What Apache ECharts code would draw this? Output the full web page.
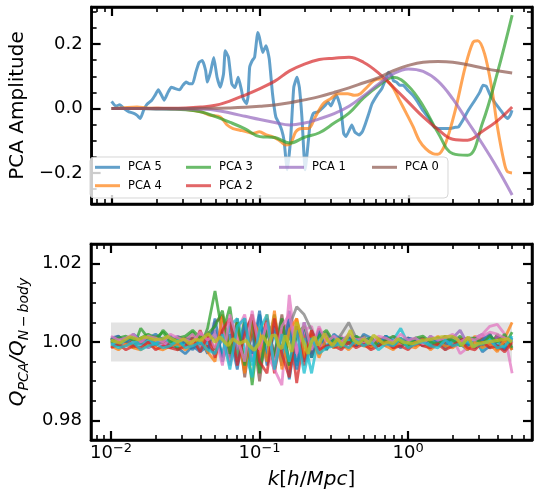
<!DOCTYPE html>
<html><head><meta charset="utf-8">
<script src="https://cdn.jsdelivr.net/npm/echarts@6/dist/echarts.min.js"></script>
<style>html,body{margin:0;padding:0;background:#fff}#c{width:540px;height:501px}</style>
</head><body><div id="c"></div>
<script>
// ---------------- data ----------------
const kGrid = [0.01, 0.01259, 0.01585, 0.01995, 0.02512, 0.03162, 0.03981, 0.05012, 0.0631, 0.07943, 0.1, 0.1259, 0.1585, 0.1995, 0.2512, 0.3162, 0.3981, 0.5012, 0.631, 0.7943, 1.0, 1.259, 1.585, 1.995, 2.512, 3.162, 3.981, 5.012];
const pca3 = [0, 0, 0, -0.001, -0.002, -0.004, -0.010, -0.025, -0.043, -0.063, -0.087, -0.090, -0.107, -0.089, -0.075, -0.045, -0.014, 0.034, 0.071, 0.097, 0.070, 0.008, -0.075, -0.140, -0.145, -0.045, 0.110, 0.290];
const pca2 = [0, 0, 0, 0.001, 0.001, 0.002, 0.005, 0.010, 0.024, 0.042, 0.062, 0.085, 0.117, 0.138, 0.152, 0.156, 0.159, 0.143, 0.110, 0.066, 0.020, -0.026, -0.065, -0.095, -0.098, -0.070, -0.038, 0.005];
const pca1 = [0, 0, 0, -0.001, -0.001, -0.001, -0.002, -0.005, -0.014, -0.024, -0.034, -0.043, -0.051, -0.045, -0.032, -0.016, 0.007, 0.040, 0.076, 0.108, 0.123, 0.115, 0.085, 0.030, -0.040, -0.110, -0.185, -0.268];
const pca0 = [0, 0, 0, 0, 0, 0, 0.001, 0.001, 0.002, 0.004, 0.007, 0.011, 0.018, 0.027, 0.037, 0.050, 0.064, 0.080, 0.096, 0.118, 0.134, 0.144, 0.146, 0.144, 0.136, 0.126, 0.117, 0.110];

const kPca5 = [0.01, 0.01068, 0.01134, 0.01213, 0.01309, 0.01412, 0.01485, 0.01561, 0.01644, 0.01729, 0.01865, 0.0196, 0.02065, 0.02171, 0.02262, 0.02403, 0.02527, 0.02685, 0.02867, 0.0302, 0.03175, 0.03338, 0.03515, 0.03696, 0.03885, 0.04091, 0.04302, 0.04414, 0.04642, 0.0488, 0.05139, 0.05403, 0.05682, 0.05831, 0.06131, 0.06455, 0.06787, 0.07136, 0.07514, 0.07699, 0.08107, 0.08308, 0.08521, 0.08878, 0.09199, 0.09672, 0.09924, 0.1043, 0.1099, 0.1155, 0.1215, 0.1279, 0.1345, 0.1402, 0.1452, 0.1526, 0.1607, 0.169, 0.1777, 0.1843, 0.1917, 0.2018, 0.2122, 0.2178, 0.2289, 0.247, 0.2585, 0.2747, 0.2876, 0.301, 0.315, 0.3262, 0.3383, 0.352, 0.3667, 0.3797, 0.3999, 0.416, 0.4354, 0.4655, 0.4895, 0.5147, 0.542, 0.5698, 0.6149, 0.6636, 0.6977, 0.7345, 0.7723, 0.7925, 0.8332, 0.876, 0.9226, 0.9954, 1.074, 1.159, 1.25, 1.382, 1.491, 1.609, 1.736, 1.874, 2.074, 2.181, 2.297, 2.539, 2.811, 3.033, 3.189, 3.358, 3.531, 3.81, 4.111, 4.436, 4.664, 4.86, 5.0];
const pca5 = [0.022, 0.007, 0.012, 0.000, -0.010, -0.015, -0.021, -0.031, -0.005, 0.013, 0.026, 0.041, 0.058, 0.041, 0.026, 0.051, 0.066, 0.062, 0.058, 0.072, 0.082, 0.077, 0.077, 0.113, 0.143, 0.149, 0.118, 0.082, 0.113, 0.158, 0.097, 0.066, 0.108, 0.179, 0.159, 0.077, 0.065, 0.097, 0.056, 0.031, 0.015, 0.036, 0.128, 0.149, 0.159, 0.236, 0.220, 0.174, 0.195, 0.154, 0.046, -0.026, -0.046, -0.067, -0.098, -0.190, -0.098, 0.066, 0.097, 0.066, -0.026, -0.190, -0.098, -0.046, -0.015, -0.010, -0.002, 0.010, 0.020, 0.008, 0.028, 0.041, 0.026, -0.005, -0.077, -0.087, -0.067, -0.051, -0.072, -0.082, -0.072, -0.046, -0.015, 0.015, 0.041, 0.062, 0.087, 0.113, 0.102, 0.087, 0.082, 0.072, 0.072, 0.056, 0.041, 0.020, -0.005, -0.031, -0.057, -0.062, -0.062, -0.062, -0.058, -0.057, -0.041, -0.005, 0.026, 0.051, 0.072, 0.069, 0.046, 0.020, 0.000, -0.021, -0.031, -0.021, -0.005];

const kPca4 = [0.01, 0.01182, 0.01485, 0.01729, 0.02342, 0.03175, 0.03988, 0.04642, 0.05403, 0.0601, 0.06585, 0.07323, 0.08143, 0.08923, 0.09924, 0.1104, 0.1209, 0.1345, 0.1496, 0.1614, 0.1741, 0.1908, 0.2122, 0.236, 0.2667, 0.301, 0.3347, 0.3898, 0.4335, 0.475, 0.5283, 0.5875, 0.6437, 0.7159, 0.7962, 0.8721, 0.97, 1.079, 1.182, 1.315, 1.462, 1.578, 1.782, 2.074, 2.415, 2.727, 2.942, 3.272, 3.64, 3.988, 4.436, 4.642, 5.0];
const pca4 = [0, 0.002, 0.005, 0.002, 0, -0.003, -0.010, -0.021, -0.026, -0.051, -0.062, -0.067, -0.072, -0.077, -0.072, -0.082, -0.087, -0.098, -0.113, -0.108, -0.072, -0.062, -0.062, -0.026, 0.015, 0.031, 0.046, 0.046, 0.041, 0.046, 0.067, 0.087, 0.092, 0.087, 0.062, 0.026, -0.015, -0.057, -0.098, -0.125, -0.140, -0.142, -0.108, -0.005, 0.128, 0.205, 0.210, 0.169, 0.067, -0.057, -0.169, -0.195, -0.200];

// lower panel
const kRatio = [0.01, 0.01122, 0.01259, 0.01413, 0.01585, 0.01778, 0.01995, 0.02239, 0.02512, 0.02818, 0.03162, 0.03548, 0.03981, 0.04467, 0.05012, 0.05623, 0.0631, 0.07079, 0.07943, 0.08913, 0.1, 0.1122, 0.1259, 0.1413, 0.1585, 0.1778, 0.1995, 0.2239, 0.2512, 0.2818, 0.3162, 0.3548, 0.3981, 0.4467, 0.5012, 0.5623, 0.631, 0.7079, 0.7943, 0.8913, 1.0, 1.122, 1.259, 1.413, 1.585, 1.778, 1.995, 2.239, 2.512, 2.818, 3.162, 3.548, 3.981, 4.467, 5.012];
const ratioBlue = [1.0005, 0.9995, 1.001, 0.999, 1.0005, 0.9985, 0.9995, 1.0, 0.999, 0.9985, 0.997, 0.999, 0.9975, 0.999, 0.997, 1.001, 0.996, 1.003, 0.995, 1.002, 0.994, 1.004, 0.997, 1.006, 0.9905, 1.003, 0.995, 1.002, 0.997, 1.001, 0.999, 1.001, 0.9995, 1.0015, 0.999, 1.0005, 0.999, 1.001, 0.9995, 1.0005, 0.999, 1.001, 1.0, 0.999, 1.0005, 0.9985, 1.001, 0.9995, 0.998, 1.001, 0.9975, 0.999, 1.0015, 0.998, 1.0005];
const ratioOrange = [0.9995, 1.001, 1.0005, 0.9995, 1.001, 1.0, 1.0015, 0.9995, 1.0005, 1.001, 0.999, 1.0015, 0.999, 1.002, 0.998, 1.004, 0.997, 1.005, 0.994, 1.003, 0.996, 1.007, 0.995, 1.002, 0.993, 1.006, 0.997, 1.003, 0.998, 1.0015, 1.0005, 0.999, 1.001, 1.0, 1.0015, 0.999, 1.0005, 0.9995, 1.001, 0.999, 1.0005, 1.0, 1.001, 0.9995, 1.0015, 0.999, 1.0005, 1.001, 0.999, 1.0015, 0.999, 1.002, 0.998, 1.001, 1.005];
const ratioGreen = [1.001, 0.999, 1.0005, 0.9985, 1.0035, 1.001, 1.0, 1.003, 1.001, 0.998, 1.0005, 1.0025, 0.9985, 1.0035, 1.013, 1.002, 1.009, 0.996, 1.006, 0.989, 1.005, 0.997, 1.007, 0.994, 1.002, 0.995, 1.004, 0.996, 1.002, 0.998, 1.001, 0.9985, 1.0005, 0.999, 1.001, 0.9995, 1.0, 1.0015, 0.999, 1.0005, 0.9995, 1.001, 0.999, 1.0005, 1.001, 0.9995, 1.0, 1.0015, 0.999, 1.0005, 1.001, 0.9985, 1.002, 0.999, 1.0025];
const ratioRed = [1.0, 1.0005, 0.999, 1.001, 0.9995, 1.0015, 0.999, 1.0005, 0.9985, 1.001, 1.0, 0.9985, 1.003, 0.998, 1.005, 1.0065, 0.997, 1.004, 0.993, 1.005, 0.998, 1.006, 0.992, 1.003, 1.005, 0.9895, 1.002, 0.997, 1.0035, 0.9985, 1.001, 0.9995, 0.9985, 1.0005, 1.001, 0.999, 1.0005, 1.001, 0.9985, 1.0, 1.001, 0.999, 1.0005, 0.9995, 1.001, 1.0, 0.999, 1.0005, 1.001, 0.9985, 1.001, 0.9995, 1.0015, 0.999, 0.9995];
const ratioPurple = [0.999, 1.0, 1.001, 1.0005, 0.9995, 1.0, 1.001, 0.999, 1.0005, 1.0015, 1.0005, 0.999, 1.002, 0.9995, 1.003, 0.996, 1.005, 0.998, 1.004, 0.995, 1.007, 0.996, 1.003, 0.994, 1.008, 0.998, 1.003, 0.998, 1.001, 1.002, 0.999, 1.0005, 1.001, 0.9995, 1.0, 1.001, 0.999, 1.0005, 1.0, 0.999, 1.001, 1.0005, 0.9995, 1.001, 1.0, 1.0005, 1.001, 1.003, 0.9995, 1.001, 1.002, 0.999, 1.0015, 1.0005, 0.9985];
const ratioBrown = [1.0005, 1.0015, 0.9995, 1.001, 1.0, 0.999, 1.0005, 1.001, 0.9995, 1.0, 1.001, 1.0, 0.998, 1.0015, 0.998, 1.003, 0.995, 1.006, 0.991, 1.004, 0.990, 1.005, 0.996, 1.007, 0.994, 1.004, 0.996, 1.002, 0.9975, 1.001, 0.9985, 1.0, 1.001, 0.999, 1.0005, 0.9985, 1.001, 1.0, 0.9995, 1.001, 0.9985, 1.0005, 1.001, 0.999, 1.0, 1.0015, 0.999, 1.0, 0.9985, 1.001, 0.999, 1.002, 0.9985, 1.0015, 0.998];
const ratioPink = [0.9995, 1.001, 0.999, 1.0, 1.001, 0.9985, 1.0005, 0.999, 1.001, 0.9995, 1.0005, 1.002, 0.9985, 1.001, 0.9985, 1.005, 0.994, 1.003, 1.007, 0.996, 1.006, 0.997, 0.993, 0.989, 1.012, 0.996, 1.003, 1.004, 0.997, 1.002, 1.0, 1.0015, 0.999, 1.0005, 0.9995, 1.001, 1.0, 0.999, 1.0015, 0.9995, 1.0, 1.001, 0.999, 1.0005, 1.0, 0.999, 1.001, 0.997, 0.9985, 1.001, 1.002, 1.004, 1.0045, 1.002, 0.992];
const ratioGray = [1.001, 0.9995, 1.0005, 0.999, 1.0, 1.001, 0.9995, 1.0, 1.0015, 0.999, 1.0005, 1.001, 0.9995, 1.0025, 1.001, 0.997, 1.004, 0.995, 1.003, 1.006, 0.993, 1.002, 1.005, 0.997, 1.004, 1.009, 1.007, 1.003, 0.999, 1.0025, 0.9995, 1.002, 1.005, 1.001, 0.999, 1.0005, 1.0, 1.0015, 0.999, 1.0005, 1.001, 0.9995, 1.0, 1.001, 0.999, 1.0005, 1.0, 0.9995, 1.001, 0.999, 1.0005, 1.0015, 0.998, 1.0005, 0.999];
const ratioCyan = [1.0, 0.999, 1.0005, 1.001, 0.999, 1.0005, 0.9995, 1.001, 1.0, 0.999, 0.9995, 1.001, 0.998, 1.0, 1.002, 0.997, 1.004, 1.006, 0.998, 0.991, 1.007, 0.996, 1.002, 0.995, 1.003, 0.994, 1.001, 0.992, 1.002, 0.999, 1.001, 0.999, 1.0005, 0.9995, 1.001, 1.0, 0.999, 1.0015, 1.0005, 1.0035, 0.9995, 1.001, 1.0, 0.9995, 1.001, 0.998, 1.0005, 1.0, 0.999, 1.0005, 0.998, 1.001, 1.0, 0.9985, 1.0015];
const ratioBlue2 = [1.001, 1.0015, 1.0, 1.002, 1.0005, 1.001, 1.002, 1.0005, 1.0015, 0.9995, 1.0, 0.998, 1.001, 0.997, 1.006, 0.995, 1.002, 0.993, 1.005, 0.997, 1.008, 0.994, 1.004, 0.998, 1.006, 0.993, 1.005, 0.996, 1.003, 0.998, 1.002, 1.0005, 1.0015, 0.999, 1.002, 1.001, 0.9995, 1.0015, 1.0, 0.9985, 1.001, 1.0005, 0.999, 1.0015, 1.0, 0.999, 1.0015, 1.0005, 0.9995, 0.9985, 1.0005, 1.002, 0.999, 0.998, 1.001];
const ratioOrange2 = [0.999, 0.998, 0.9995, 0.9985, 0.998, 0.9995, 0.9985, 0.998, 0.999, 0.9995, 0.998, 0.9995, 1.0015, 0.9975, 0.995, 1.007, 0.998, 1.003, 0.992, 1.006, 1.002, 0.995, 1.008, 0.993, 1.003, 1.006, 0.996, 1.002, 0.996, 1.001, 0.9985, 0.9995, 0.998, 1.0, 0.999, 0.9985, 1.0005, 0.999, 0.998, 1.0, 0.999, 0.9985, 1.0, 0.998, 0.9995, 0.999, 0.9985, 1.0, 0.998, 1.0, 0.9985, 0.9995, 0.9975, 1.0005, 0.998];
const ratioGreen2 = [1.0, 1.001, 1.0015, 1.0005, 1.001, 1.002, 1.001, 1.0025, 1.0, 1.001, 1.0015, 1.003, 1.001, 1.002, 1.004, 1.008, 0.997, 1.005, 0.994, 1.007, 0.992, 1.003, 0.996, 1.006, 0.994, 1.002, 1.004, 0.999, 1.0015, 1.003, 1.0, 1.001, 0.9995, 1.0015, 1.0005, 1.001, 0.999, 1.0005, 1.0015, 1.0, 0.999, 1.001, 1.0015, 1.0, 0.9995, 1.001, 1.0005, 0.999, 1.001, 1.001, 0.9995, 1.0015, 1.0, 1.002, 0.9985];
const ratioRed2 = [0.9985, 0.9995, 0.998, 0.999, 0.9985, 1.0, 0.998, 0.999, 0.9985, 0.998, 0.999, 1.001, 0.9975, 1.0015, 0.996, 1.003, 1.006, 0.994, 1.002, 1.007, 0.995, 0.992, 1.006, 0.997, 0.991, 1.004, 0.994, 1.003, 0.998, 0.999, 0.999, 0.998, 1.0, 0.9985, 0.9995, 0.998, 0.999, 1.0, 0.9985, 0.999, 0.998, 1.0, 0.999, 0.9985, 0.9995, 0.998, 0.999, 1.0005, 0.9985, 0.998, 1.0, 0.9985, 0.999, 0.9975, 1.0];
const ratioPink2 = [1.0015, 1.0005, 1.001, 1.002, 1.0, 1.0015, 1.001, 1.0, 1.002, 1.001, 1.0005, 1.0, 1.0025, 1.0005, 1.002, 0.994, 1.007, 1.001, 0.995, 1.008, 0.998, 1.005, 0.994, 1.004, 1.007, 0.997, 1.005, 0.998, 1.004, 1.0, 1.0015, 1.0, 1.002, 1.0005, 1.001, 0.9995, 1.0015, 1.001, 1.0, 1.002, 1.0005, 1.001, 0.9995, 1.0015, 1.0005, 1.001, 1.002, 1.0, 1.001, 1.0005, 1.0015, 1.0025, 1.002, 1.001, 1.0005];
const ratioCyan2 = [0.9995, 0.9985, 0.999, 1.0, 0.998, 0.999, 0.9995, 0.9985, 0.999, 1.0005, 0.9985, 0.999, 1.0, 0.998, 0.997, 1.002, 0.993, 1.004, 1.006, 0.994, 1.003, 1.007, 0.993, 1.002, 0.995, 1.003, 0.992, 1.001, 0.997, 0.9985, 0.999, 0.9995, 0.9985, 1.0005, 0.999, 1.0, 0.998, 0.9995, 0.999, 1.001, 0.9985, 0.9995, 1.0, 0.999, 0.9985, 1.0005, 0.999, 0.9995, 1.0, 0.999, 0.9995, 1.0005, 0.9985, 0.999, 1.001];

const kMean = [0.01, 0.01152, 0.01341, 0.01523, 0.01684, 0.0196, 0.02227, 0.02403, 0.02798, 0.03093, 0.03338, 0.03696, 0.03988, 0.04523, 0.05011, 0.05403, 0.06131, 0.06615, 0.07323, 0.08107,
  0.08521, 0.09199, 0.09924, 0.1043, 0.1099, 0.1155, 0.1215, 0.1279, 0.1345, 0.1414, 0.1489, 0.1646, 0.1777, 0.1917, 0.2018, 0.2122, 0.2231, 0.235, 0.247, 0.2735, 0.2876, 0.3102, 0.3347, 0.3612, 0.3898, 0.4097, 0.4315, 0.4656, 0.5023, 0.542, 0.5848, 0.631, 0.6808, 0.7345,
  0.7925, 0.8551, 0.9226, 1.074, 1.25, 1.455, 1.694, 1.972, 2.129, 2.297, 2.539, 2.739, 2.956, 3.44, 4.005, 4.664, 5.0];
const meanRatio = [1.0004, 0.9998, 1.0013, 1.0006, 1.0013, 1.0006, 1.0008, 1.0014, 1.0, 1.0008, 0.9996, 1.0006, 1.0004, 1.0021, 1.0, 1.0013, 0.9991, 1.0008, 0.9996, 1.0004,
  0.9991, 0.9979, 0.9996, 1.0017, 1.0004, 0.9991, 1.0017, 1.0017, 0.9991, 0.9983, 1.0017, 0.9975, 1.0051, 1.0013, 0.9991, 0.997, 1.0, 1.0013, 0.9991, 1.0021, 1.0004, 0.9991, 1.0008, 0.9991, 1.0013, 1.003, 1.0004, 0.9996, 1.0008, 0.9996, 1.0017, 1.0008, 0.9996, 1.0,
  0.9996, 1.0008, 1.0, 0.9996, 1.0004, 1.0008, 1.0013, 1.0014, 1.0008, 0.9991, 1.0013, 0.9987, 0.9996, 1.0, 1.0004, 1.0008, 1.0];

const bandK = [0.01, 5.0];
const bandRatio = [0.995, 1.005];

const kMajor = [0.01, 0.1, 1];
const kMinor = [0.008, 0.009, 0.02, 0.03, 0.04, 0.05, 0.06, 0.07, 0.08, 0.09, 0.2, 0.3, 0.4, 0.5, 0.6, 0.7, 0.8, 0.9, 2, 3, 4, 5, 6];
const ampMajor = [-0.2, 0, 0.2];
const ampMinor = [-0.25, -0.15, -0.1, -0.05, 0.05, 0.1, 0.15, 0.25, 0.3];
const ratioMajor = [0.98, 1.0, 1.02];
const ratioMinor = [0.985, 0.99, 0.995, 1.005, 1.01, 1.015];

// ---------------- chart ----------------
const FONT = 'DejaVu Sans';
const X_MIN = 0.00733, X_MAX = 6.82;
const zip = (ks, vs) => ks.map((k, i) => [k, vs[i]]);
const minus = s => s.replace('-', '\u2212');

function xAx(gi, pos, ticks, major, labels) {
  return {
    type: 'log', logBase: 10, gridIndex: gi, position: pos, min: X_MIN, max: X_MAX, z: 10,
    axisLine: { show: major, onZero: false, lineStyle: { color: '#000', width: 2.5 } },
    splitLine: { show: false },
    axisTick: { show: true, inside: true, length: major ? 9 : 5, lineStyle: { color: '#000', width: major ? 2.2 : 1.6 }, customValues: ticks },
    axisLabel: labels ? {
      show: true, customValues: ticks, margin: 2,
      formatter: v => '{b|10}{s|' + minus(String(Math.round(Math.log10(v)))) + '}',
      rich: {
        b: { fontFamily: FONT, fontSize: 18, color: '#000', lineHeight: 22 },
        s: { fontFamily: FONT, fontSize: 13, color: '#000', lineHeight: 11, verticalAlign: 'top' }
      }
    } : { show: false }
  };
}
function yAx(gi, pos, min, max, ticks, major, fmt) {
  return {
    type: 'value', gridIndex: gi, position: pos, min: min, max: max, z: 10,
    axisLine: { show: major, onZero: false, lineStyle: { color: '#000', width: 2.5 } },
    splitLine: { show: false },
    axisTick: { show: true, inside: true, length: major ? 9 : 5, lineStyle: { color: '#000', width: major ? 2.2 : 1.6 }, customValues: ticks },
    axisLabel: fmt ? { show: true, customValues: ticks, margin: 9, fontFamily: FONT, fontSize: 18, color: '#000', formatter: fmt } : { show: false }
  };
}

const fmtAmp = v => (v < -1e-9 ? '\u2212' : '') + Math.abs(v).toFixed(1);
const fmtRatio = v => v.toFixed(2);

const xAxes = [
  xAx(0, 'bottom', kMajor, true, false), xAx(0, 'bottom', kMinor, false, false),
  xAx(0, 'top', kMajor, true, false), xAx(0, 'top', kMinor, false, false),
  xAx(1, 'bottom', kMajor, true, true), xAx(1, 'bottom', kMinor, false, false),
  xAx(1, 'top', kMajor, true, false), xAx(1, 'top', kMinor, false, false)
];
Object.assign(xAxes[4], {
  name: '{i|k}{r|[}{i|h}{r|/}{i|Mpc}{r|]}', nameLocation: 'middle', nameGap: 30,
  nameTextStyle: { rich: {
    i: { fontFamily: FONT, fontSize: 20, fontStyle: 'italic', color: '#000' },
    r: { fontFamily: FONT, fontSize: 20, color: '#000' } } }
});
const A_MIN = -0.296, A_MAX = 0.315, R_MIN = 0.975, R_MAX = 1.025;
const yAxes = [
  yAx(0, 'left', A_MIN, A_MAX, ampMajor, true, fmtAmp), yAx(0, 'left', A_MIN, A_MAX, ampMinor, false, null),
  yAx(0, 'right', A_MIN, A_MAX, ampMajor, true, null), yAx(0, 'right', A_MIN, A_MAX, ampMinor, false, null),
  yAx(1, 'left', R_MIN, R_MAX, ratioMajor, true, fmtRatio), yAx(1, 'left', R_MIN, R_MAX, ratioMinor, false, null),
  yAx(1, 'right', R_MIN, R_MAX, ratioMajor, true, null), yAx(1, 'right', R_MIN, R_MAX, ratioMinor, false, null)
];
Object.assign(yAxes[0], {
  name: 'PCA Amplitude', nameLocation: 'middle', nameRotate: 90, nameGap: 55,
  nameTextStyle: { fontFamily: FONT, fontSize: 20, color: '#000' }
});
Object.assign(yAxes[4], {
  name: '{i|Q}{s|PCA}{i|/Q}{s|N\u2009\u2212\u2009body}', nameLocation: 'middle', nameRotate: 90, nameGap: 52,
  nameTextStyle: { rich: {
    i: { fontFamily: FONT, fontSize: 20, fontStyle: 'italic', color: '#000', lineHeight: 26 },
    s: { fontFamily: FONT, fontSize: 14, fontStyle: 'italic', color: '#000', lineHeight: 14, verticalAlign: 'bottom' } } }
});

const topDefs = [
  ['PCA 5', kPca5, pca5, 'rgba(31,119,180,0.7)', 0.15],
  ['PCA 4', kPca4, pca4, 'rgba(255,127,14,0.7)', 0.3],
  ['PCA 3', kGrid, pca3, 'rgba(44,160,44,0.7)', 0.4],
  ['PCA 2', kGrid, pca2, 'rgba(214,39,40,0.7)', 0.4],
  ['PCA 1', kGrid, pca1, 'rgba(148,103,189,0.7)', 0.4],
  ['PCA 0', kGrid, pca0, 'rgba(140,86,75,0.7)', 0.4]
];
const series = topDefs.map(d => ({
  name: d[0], type: 'line', xAxisIndex: 0, yAxisIndex: 0, data: zip(d[1], d[2]),
  smooth: d[4], showSymbol: false, symbol: 'none', z: 2,
  lineStyle: { color: d[3], width: 3 }, itemStyle: { color: d[3] }
}));

series.push({
  name: 'band', type: 'line', xAxisIndex: 4, yAxisIndex: 4, data: [], z: 1, silent: true,
  markArea: { silent: true, itemStyle: { color: 'rgba(128,128,128,0.22)' },
    data: [[{ xAxis: bandK[0], yAxis: bandRatio[0] }, { xAxis: bandK[1], yAxis: bandRatio[1] }]] }
});
const botDefs = [
  [ratioBlue, 'rgba(31,119,180,0.75)'], [ratioOrange, 'rgba(255,127,14,0.75)'],
  [ratioGreen, 'rgba(44,160,44,0.75)'], [ratioRed, 'rgba(214,39,40,0.75)'],
  [ratioPurple, 'rgba(148,103,189,0.75)'], [ratioBrown, 'rgba(140,86,75,0.75)'],
  [ratioPink, 'rgba(227,119,194,0.75)'], [ratioGray, 'rgba(127,127,127,0.75)'],
  [ratioCyan, 'rgba(23,190,207,0.75)'],
  [ratioBlue2, 'rgba(31,119,180,0.75)'], [ratioOrange2, 'rgba(255,127,14,0.75)'],
  [ratioGreen2, 'rgba(44,160,44,0.75)'], [ratioRed2, 'rgba(214,39,40,0.75)'],
  [ratioPink2, 'rgba(227,119,194,0.75)'], [ratioCyan2, 'rgba(23,190,207,0.75)']
];
botDefs.forEach((d, i) => series.push({
  name: 'r' + i, type: 'line', xAxisIndex: 4, yAxisIndex: 4, data: zip(kRatio, d[0]),
  showSymbol: false, symbol: 'none', z: 2, silent: true,
  lineStyle: { color: d[1], width: 2.8 }
}));
series.push({
  name: 'mean', type: 'line', xAxisIndex: 4, yAxisIndex: 4, data: zip(kMean, meanRatio),
  showSymbol: false, symbol: 'none', z: 3, silent: true,
  lineStyle: { color: 'rgba(188,189,34,0.8)', width: 3.4 }
});

const legBase = {
  orient: 'vertical', top: 160.3, padding: 0, itemWidth: 25, itemHeight: 3, itemGap: 4.4,
  icon: 'rect', selectedMode: false, z: 20,
  textStyle: { fontFamily: FONT, fontSize: 11.5, color: '#000', lineHeight: 14, padding: [0, 0, 0, 3] }
};
const legends = [
  Object.assign({}, legBase, { left: 95, data: ['PCA 5', 'PCA 4'] }),
  Object.assign({}, legBase, { left: 186, data: ['PCA 3', 'PCA 2'] }),
  Object.assign({}, legBase, { left: 279, data: ['PCA 1'] }),
  Object.assign({}, legBase, { left: 372, data: ['PCA 0'] })
];

const chart = echarts.init(document.getElementById('c'), null, { renderer: 'canvas' });
chart.setOption({
  animation: false,
  backgroundColor: '#fff',
  grid: [
    { left: 83, top: 7, width: 449, height: 197, show: true, borderColor: '#000', borderWidth: 2.5, backgroundColor: 'transparent', containLabel: false },
    { left: 83, top: 244, width: 449, height: 196, show: true, borderColor: '#000', borderWidth: 2.5, backgroundColor: 'transparent', containLabel: false }
  ],
  xAxis: xAxes,
  yAxis: yAxes,
  legend: legends,
  graphic: [{ type: 'rect', z: 15, shape: { x: 90, y: 157, width: 358, height: 41, r: 4 },
    style: { fill: 'rgba(255,255,255,0.8)', stroke: 'rgba(204,204,204,0.8)', lineWidth: 1 } }],
  series: series
});
</script></body></html>
